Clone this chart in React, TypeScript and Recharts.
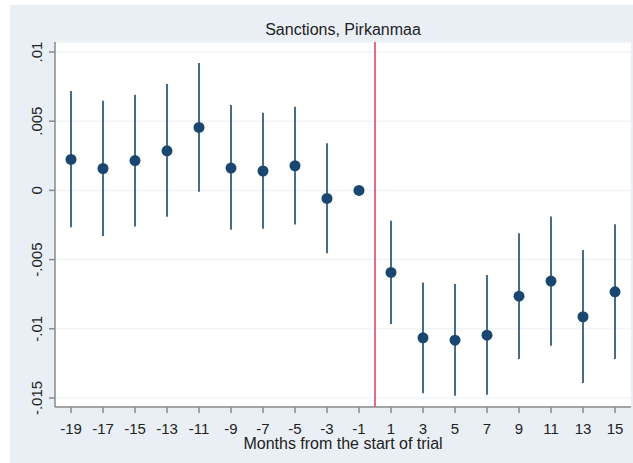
import { ComposedChart, Scatter, ErrorBar, XAxis, YAxis, CartesianGrid, ReferenceLine, Label } from "recharts";

const months = [-19, -17, -15, -13, -11, -9, -7, -5, -3, -1, 1, 3, 5, 7, 9, 11, 13, 15];
const coef = [0.00224, 0.00158, 0.00215, 0.00286, 0.00455, 0.00161, 0.0014, 0.00178, -0.00058, 0, -0.00593, -0.01065, -0.01082, -0.01046, -0.00764, -0.00655, -0.00913, -0.00733];
const ciLow = [-0.00267, -0.00329, -0.00261, -0.00191, -0.0001, -0.00285, -0.00277, -0.00246, -0.00455, 0, -0.00966, -0.01465, -0.01484, -0.01477, -0.01219, -0.01123, -0.01392, -0.01219];
const ciHigh = [0.00718, 0.00647, 0.0069, 0.00768, 0.0092, 0.00616, 0.0056, 0.00604, 0.0034, 0, -0.0022, -0.00665, -0.00677, -0.00612, -0.00309, -0.00188, -0.00431, -0.00244];

const yTicks = [-0.015, -0.01, -0.005, 0, 0.005, 0.01];
const yTickLabels = ["-.015", "-.01", "-.005", "0", ".005", ".01"];

const data = months.map((m, i) => ({
  month: m,
  coef: coef[i],
  err: [coef[i] - ciLow[i], ciHigh[i] - coef[i]],
}));

const FONT = "'Liberation Sans', Arial, sans-serif";
const NAVY = "#1a476f";

function YTick(props: any) {
  const { x, y, payload } = props;
  const idx = yTicks.indexOf(payload.value);
  const bx = x - 4.5;
  return (
    <text
      x={bx}
      y={y}
      transform={`rotate(-90 ${bx} ${y})`}
      textAnchor="middle"
      fontSize={15}
      fontFamily={FONT}
      fill="#222"
    >
      {idx >= 0 ? yTickLabels[idx] : payload.value}
    </text>
  );
}

function Dot(props: any) {
  return <circle cx={props.cx} cy={props.cy} r={5.5} fill={NAVY} />;
}

export default function App() {
  return (
    <div style={{ position: "absolute", left: 0, top: 0, width: 633, height: 463, background: "#fff" }}>
      <div style={{ position: "absolute", left: 10, top: 5, width: 623, height: 458, background: "#eaeff6" }}>
        <ComposedChart
          width={623}
          height={458}
          data={data}
          margin={{ top: 37, right: 2, left: 10, bottom: 13 }}
        >
          <CartesianGrid vertical={false} stroke="#eaf1f6" fill="#fff" />
          <XAxis
            dataKey="month"
            type="number"
            domain={[-20, 16]}
            ticks={months}
            interval={0}
            allowDataOverflow
            height={43}
            tickSize={6}
            tickMargin={10}
            stroke="#8a8a8a"
            strokeWidth={1.5}
            tick={{ fontSize: 15, fontFamily: FONT, fill: "#222" }}
          >
            <Label
              value="Months from the start of trial"
              position="insideBottom"
              offset={1}
              style={{ fontSize: 16, fontFamily: FONT, fill: "#222" }}
            />
          </XAxis>
          <YAxis
            type="number"
            domain={[-0.01565, 0.01072]}
            ticks={yTicks}
            interval={0}
            allowDataOverflow
            width={35}
            tickSize={6}
            stroke="#8a8a8a"
            strokeWidth={1.5}
            tick={<YTick />}
          />
          <ReferenceLine x={0} stroke="#dd3b5a" strokeWidth={1.5} />
          <Scatter dataKey="coef" fill={NAVY} shape={<Dot />} isAnimationActive={false}>
            <ErrorBar dataKey="err" direction="y" width={0} stroke={NAVY} strokeWidth={1.6} isAnimationActive={false} />
          </Scatter>
        </ComposedChart>
      </div>
      <div
        style={{
          position: "absolute",
          left: 55,
          width: 576,
          top: 22,
          textAlign: "center",
          fontSize: 16,
          lineHeight: "16px",
          fontFamily: FONT,
          color: "#222",
        }}
      >
        Sanctions, Pirkanmaa
      </div>
    </div>
  );
}
